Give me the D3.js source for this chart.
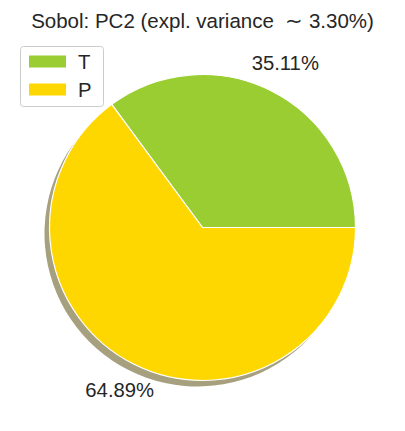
<!doctype html>
<html lang="en">
<head>
  <meta charset="utf-8">
  <title>Sobol PC2</title>
  <script src="https://d3js.org/d3.v7.min.js"></script>
  <style>
    body { margin: 0; background: #fff; }
    text { font-family: "Liberation Sans", Arial, sans-serif; fill: #262626; white-space: pre; }
  </style>
</head>
<body>
<div id="chart"></div>
<script>
var labels = ["T", "P"];
var values = [35.11, 64.89];
var colors = ["#9acd32", "#ffd700"];
var shadowColors = ["#97a087", "#a6a07f"];
var titleText = "Sobol: PC2 (expl. variance  \u223c 3.30%)";

var width = 405, height = 431;
var cx = 202.5, cy = 227.5, r = 153;

var svg = d3.select("#chart").append("svg")
  .attr("width", width)
  .attr("height", height);

// matplotlib style: start at 3 o'clock, go counterclockwise
var pie = d3.pie().sort(null)
  .startAngle(Math.PI / 2)
  .endAngle(Math.PI / 2 - 2 * Math.PI);
var arcs = pie(values);

var arc = d3.arc().innerRadius(0).outerRadius(r);
var labelArc = d3.arc().innerRadius(r * 1.2).outerRadius(r * 1.2);

var g = svg.append("g").attr("transform", "translate(" + cx + "," + cy + ")");

// shadow
g.append("g").attr("transform", "translate(-5,6)")
  .selectAll("path").data(arcs).enter().append("path")
  .attr("d", arc)
  .attr("fill", function(d, i) { return shadowColors[i]; });

g.append("g").selectAll("path").data(arcs).enter().append("path")
  .attr("d", arc)
  .attr("fill", function(d, i) { return colors[i]; })
  .attr("stroke", "#fff")
  .attr("stroke-width", 1.2)
  .attr("stroke-linejoin", "round");

g.append("g").selectAll("text").data(arcs).enter().append("text")
  .attr("transform", function(d) { return "translate(" + labelArc.centroid(d) + ")"; })
  .attr("text-anchor", "middle")
  .attr("dy", "0.3em")
  .style("font-size", "20.3px")
  .text(function(d) { return d.data.toFixed(2) + "%"; });

svg.append("text")
  .attr("x", 202.5)
  .attr("y", 28)
  .attr("text-anchor", "middle")
  .style("font-size", "20.5px")
  .text(titleText);

// legend
var legend = svg.append("g");
legend.append("rect")
  .attr("x", 20.5).attr("y", 46.5)
  .attr("width", 83).attr("height", 60)
  .attr("rx", 3)
  .attr("fill", "#fff").attr("fill-opacity", 0.8)
  .attr("stroke", "#cccccc");

var items = legend.selectAll("g.item").data(labels).enter().append("g")
  .attr("class", "item")
  .attr("transform", function(d, i) { return "translate(29," + (55.5 + i * 28) + ")"; });
items.append("rect")
  .attr("width", 37).attr("height", 12)
  .attr("fill", function(d, i) { return colors[i]; });
items.append("text")
  .attr("x", 49).attr("y", 13)
  .style("font-size", "20.3px")
  .text(function(d) { return d; });
</script>
</body>
</html>
